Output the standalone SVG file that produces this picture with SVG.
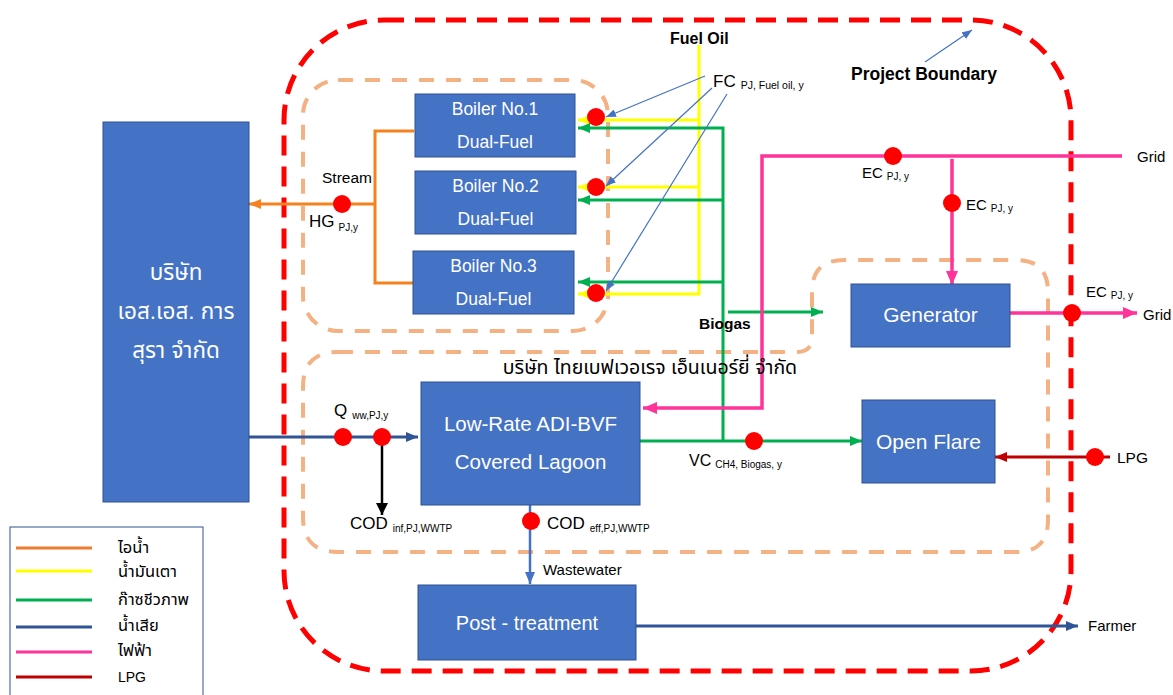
<svg xmlns="http://www.w3.org/2000/svg" width="1173" height="695" viewBox="0 0 1173 695">
<defs>
<style>
.box{fill:#4472C4;stroke:#2F528F;stroke-width:1}
.bt{fill:#FFFFFF;font-family:"Liberation Sans",Arial,sans-serif;text-anchor:middle}
.lbl{fill:#000000;font-family:"Liberation Sans",Arial,sans-serif}
.b{font-weight:bold}
.th{font-family:"Liberation Sans","Noto Sans Thai","Noto Sans",sans-serif}
.ln{fill:none;stroke-width:3}
.steam{stroke:#F5821F}
.oil{stroke:#FFFF00}
.gas{stroke:#00B050}
.ww{stroke:#2F5597}
.ww2{stroke:#4472C4;stroke-width:2.5}
.ele{stroke:#FF3399;stroke-width:3.5}
.lpg{stroke:#C00000}
.blk{stroke:#000000;stroke-width:2.5}
.thin{fill:none;stroke:#4472C4;stroke-width:1.2}
.pt{fill:#FF0000}
.bound{fill:none;stroke:#FF0000;stroke-width:5;stroke-dasharray:20 11}
.sub{fill:none;stroke:#F4B183;stroke-width:4;stroke-dasharray:15 12}
</style>
<marker id="aOr" markerUnits="userSpaceOnUse" markerWidth="12" markerHeight="10" refX="12" refY="5" orient="auto"><path d="M0,0 L12,5 L0,10 z" fill="#F5821F"/></marker>
<marker id="aYe" markerUnits="userSpaceOnUse" markerWidth="12" markerHeight="10" refX="12" refY="5" orient="auto"><path d="M0,0 L12,5 L0,10 z" fill="#FFFF00"/></marker>
<marker id="aGr" markerUnits="userSpaceOnUse" markerWidth="12" markerHeight="10" refX="12" refY="5" orient="auto"><path d="M0,0 L12,5 L0,10 z" fill="#00B050"/></marker>
<marker id="aBl" markerUnits="userSpaceOnUse" markerWidth="12" markerHeight="10" refX="12" refY="5" orient="auto"><path d="M0,0 L12,5 L0,10 z" fill="#2F5597"/></marker>
<marker id="aBl2" markerUnits="userSpaceOnUse" markerWidth="12" markerHeight="10" refX="12" refY="5" orient="auto"><path d="M0,0 L12,5 L0,10 z" fill="#4472C4"/></marker>
<marker id="aPk" markerUnits="userSpaceOnUse" markerWidth="14" markerHeight="12" refX="14" refY="6" orient="auto"><path d="M0,0 L14,6 L0,12 z" fill="#FF3399"/></marker>
<marker id="aRd" markerUnits="userSpaceOnUse" markerWidth="12" markerHeight="10" refX="12" refY="5" orient="auto"><path d="M0,0 L12,5 L0,10 z" fill="#C00000"/></marker>
<marker id="aBk" markerUnits="userSpaceOnUse" markerWidth="12" markerHeight="12" refX="12" refY="6" orient="auto"><path d="M0,0 L12,6 L0,12 z" fill="#000000"/></marker>
<marker id="aTh" markerUnits="userSpaceOnUse" markerWidth="10" markerHeight="8" refX="10" refY="4" orient="auto"><path d="M0,0 L10,4 L0,8 z" fill="#4472C4"/></marker>
</defs>
<rect width="1173" height="695" fill="#FFFFFF"/>

<g id="boundaries">
<rect class="bound" x="284" y="20" width="787" height="651" rx="100" ry="100"/>
<rect class="sub" x="303" y="80" width="305" height="251" rx="35" ry="35"/>
<path class="sub" d="M338,352 L797,352 Q812,352 812,337 L812,292 Q812,260 844,260 L1016,260 Q1048,260 1048,292 L1048,520 Q1048,552 1016,552 L338,552 Q303,552 303,517 L303,387 Q303,352 338,352 Z"/>
</g>

<g id="connectors">
<path class="ln steam" d="M414,131 H375 V283 H413"/>
<path class="ln steam" d="M375,204 H249" marker-end="url(#aOr)"/>
<path class="ln oil" d="M699,45 V294 H578" marker-end="url(#aYe)"/>
<path class="ln oil" d="M699,120 H578" marker-end="url(#aYe)"/>
<path class="ln oil" d="M699,187 H578" marker-end="url(#aYe)"/>
<path class="ln gas" d="M723,441 V128 H578" marker-end="url(#aGr)"/>
<path class="ln gas" d="M723,200 H578" marker-end="url(#aGr)"/>
<path class="ln gas" d="M723,282 H578" marker-end="url(#aGr)"/>
<path class="ln gas" d="M640,441 H862" marker-end="url(#aGr)"/>
<path class="ln gas" d="M728,312 H823" marker-end="url(#aGr)"/>
<path class="ln ele" d="M1122,156 H762 V408 H643" marker-end="url(#aPk)"/>
<path class="ln ele" d="M952,159 V285" marker-end="url(#aPk)"/>
<path class="ln ele" d="M1010,313 H1137" marker-end="url(#aPk)"/>
<path class="ln ww" d="M249,437 H418" marker-end="url(#aBl)"/>
<path class="ln ww" d="M636,626 H1078" marker-end="url(#aBl)"/>
<path class="ln ww2" d="M530,505 V584" marker-end="url(#aBl2)"/>
<path class="ln blk" d="M382,437 V515" marker-end="url(#aBk)"/>
<path class="ln lpg" d="M1110,457 H995" marker-end="url(#aRd)"/>
<path class="thin" d="M705,76 L606,117" marker-end="url(#aTh)"/>
<path class="thin" d="M712,88 L606,186" marker-end="url(#aTh)"/>
<path class="thin" d="M727,94 L606,291" marker-end="url(#aTh)"/>
<path class="thin" d="M925,62 L972,30" marker-end="url(#aTh)"/>
</g>

<g id="points">
<circle class="pt" cx="342" cy="204" r="9"/>
<circle class="pt" cx="596" cy="117" r="9"/>
<circle class="pt" cx="596" cy="187" r="9"/>
<circle class="pt" cx="596" cy="293" r="9"/>
<circle class="pt" cx="893" cy="156" r="9"/>
<circle class="pt" cx="952" cy="203" r="9"/>
<circle class="pt" cx="1072" cy="313" r="9"/>
<circle class="pt" cx="343" cy="437" r="9"/>
<circle class="pt" cx="382" cy="437" r="9"/>
<circle class="pt" cx="531" cy="521" r="9"/>
<circle class="pt" cx="754" cy="441" r="9"/>
<circle class="pt" cx="1095" cy="457" r="9"/>
</g>

<g id="node-ss-company">
<rect class="box" x="103" y="122" width="146" height="380"/>
<text class="bt th" x="176" y="280" font-size="22.5">บริษัท</text>
<text class="bt th" x="176" y="319" font-size="22.5">เอส.เอส. การ</text>
<text class="bt th" x="176" y="358" font-size="22.5">สุรา จำกัด</text>
</g>
<g id="node-boiler1">
<rect class="box" x="415" y="94" width="160" height="63"/>
<text class="bt" x="495" y="115" font-size="17.5">Boiler No.1</text>
<text class="bt" x="495" y="148" font-size="17.5">Dual-Fuel</text>
</g>
<g id="node-boiler2">
<rect class="box" x="415" y="171" width="161" height="63"/>
<text class="bt" x="495.5" y="192" font-size="17.5">Boiler No.2</text>
<text class="bt" x="495.5" y="225" font-size="17.5">Dual-Fuel</text>
</g>
<g id="node-boiler3">
<rect class="box" x="413" y="251" width="161" height="63"/>
<text class="bt" x="493.5" y="272" font-size="17.5">Boiler No.3</text>
<text class="bt" x="493.5" y="305" font-size="17.5">Dual-Fuel</text>
</g>
<g id="node-generator">
<rect class="box" x="851" y="284" width="159" height="63"/>
<text class="bt" x="930.5" y="322" font-size="21">Generator</text>
</g>
<g id="node-lagoon">
<rect class="box" x="421" y="382" width="219" height="123"/>
<text class="bt" x="530.5" y="431" font-size="20.5">Low-Rate ADI-BVF</text>
<text class="bt" x="530.5" y="469" font-size="20.5">Covered Lagoon</text>
</g>
<g id="node-openflare">
<rect class="box" x="862" y="400" width="133" height="83"/>
<text class="bt" x="928.5" y="449" font-size="21">Open Flare</text>
</g>
<g id="node-posttreatment">
<rect class="box" x="418" y="585" width="218" height="75"/>
<text class="bt" x="527" y="630" font-size="20">Post - treatment</text>
</g>

<g id="labels">
<text class="lbl b" x="670" y="44" font-size="16">Fuel Oil</text>
<text class="lbl" x="713" y="87" font-size="17">FC<tspan font-size="10.5" dx="5" dy="2">PJ, Fuel oil, y</tspan></text>
<text class="lbl b" x="851" y="80" font-size="17.5">Project Boundary</text>
<text class="lbl" x="322" y="183" font-size="15.5">Stream</text>
<text class="lbl" x="309" y="227" font-size="17">HG<tspan font-size="10" dx="4" dy="4">PJ,y</tspan></text>
<text class="lbl" x="862" y="178" font-size="15">EC<tspan font-size="10" dx="4" dy="2">PJ, y</tspan></text>
<text class="lbl" x="966" y="210" font-size="15">EC<tspan font-size="10" dx="4" dy="2">PJ, y</tspan></text>
<text class="lbl" x="1086" y="297" font-size="15">EC<tspan font-size="10" dx="4" dy="2">PJ, y</tspan></text>
<text class="lbl" x="1137" y="162" font-size="15">Grid</text>
<text class="lbl" x="1143" y="320" font-size="15">Grid</text>
<text class="lbl b" x="699" y="329" font-size="15.5">Biogas</text>
<text class="lbl th" x="650" y="374" font-size="19.5" text-anchor="middle">บริษัท ไทยเบฟเวอเรจ เอ็นเนอร์ยี่ จำกัด</text>
<text class="lbl" x="334" y="416" font-size="17">Q<tspan font-size="10" dx="5" dy="3">ww,PJ,y</tspan></text>
<text class="lbl" x="350" y="529" font-size="17">COD<tspan font-size="10" dx="5" dy="3">inf,PJ,WWTP</tspan></text>
<text class="lbl" x="547" y="529" font-size="17">COD<tspan font-size="10" dx="5" dy="3">eff,PJ,WWTP</tspan></text>
<text class="lbl" x="689" y="466" font-size="16">VC<tspan font-size="10" dx="4" dy="2">CH4, Biogas, y</tspan></text>
<text class="lbl" x="1117" y="463" font-size="15.5">LPG</text>
<text class="lbl" x="543" y="575" font-size="15">Wastewater</text>
<text class="lbl" x="1088" y="631" font-size="15">Farmer</text>
</g>

<g id="legend">
<rect x="10" y="527" width="193" height="172" fill="#FFFFFF" stroke="#2F528F" stroke-width="1"/>
<line x1="16" y1="548" x2="92" y2="548" stroke="#ED7D31" stroke-width="3"/>
<line x1="16" y1="571" x2="92" y2="571" stroke="#FFFF00" stroke-width="3"/>
<line x1="16" y1="600" x2="92" y2="600" stroke="#00B050" stroke-width="3"/>
<line x1="16" y1="627" x2="92" y2="627" stroke="#2F5597" stroke-width="3"/>
<line x1="16" y1="652" x2="92" y2="652" stroke="#FF3399" stroke-width="3"/>
<line x1="16" y1="677" x2="92" y2="677" stroke="#C00000" stroke-width="3"/>
<text class="lbl th" x="118" y="553" font-size="16.5">ไอน้ำ</text>
<text class="lbl th" x="118" y="577" font-size="16.5">น้ำมันเตา</text>
<text class="lbl th" x="118" y="605" font-size="16.5">ก๊าซชีวภาพ</text>
<text class="lbl th" x="118" y="631" font-size="16.5">น้ำเสีย</text>
<text class="lbl th" x="118" y="656" font-size="16.5">ไฟฟ้า</text>
<text class="lbl" x="118" y="682" font-size="14">LPG</text>
</g>
</svg>
